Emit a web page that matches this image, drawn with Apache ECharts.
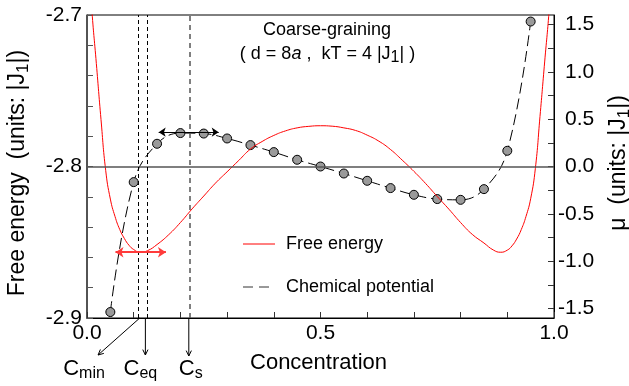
<!DOCTYPE html>
<html><head><meta charset="utf-8">
<script src="https://cdn.jsdelivr.net/npm/echarts@6/dist/echarts.min.js"></script>
<style>html,body{margin:0;padding:0;background:#fff}#c{width:629px;height:386px}</style>
</head><body><div id="c"></div>
<script>
// ---- data ----
const concFE = [0, 0.01, 0.02, 0.03, 0.04, 0.05, 0.06, 0.07, 0.08, 0.09, 0.1, 0.114, 0.13, 0.15, 0.175, 0.2, 0.225, 0.25, 0.275, 0.3, 0.325, 0.35, 0.375, 0.4, 0.425, 0.45, 0.475, 0.5,
  0.525, 0.55, 0.575, 0.6, 0.625, 0.65, 0.675, 0.7, 0.725, 0.75, 0.775, 0.8, 0.825, 0.85, 0.87, 0.886, 0.9, 0.91, 0.92, 0.93, 0.94, 0.95, 0.96, 0.97, 0.98, 0.99, 1.0];
const freeEnergy = [-2.645, -2.695, -2.732, -2.769, -2.8025, -2.8215, -2.833, -2.8415, -2.8475, -2.852, -2.8548, -2.8566, -2.8555, -2.8515, -2.845, -2.837, -2.828, -2.8195, -2.811, -2.8035, -2.796, -2.7885, -2.7835, -2.7795, -2.7765, -2.7745, -2.7735, -2.7731,
  -2.7734, -2.7745, -2.7762, -2.7793, -2.7833, -2.7888, -2.7958, -2.8032, -2.8112, -2.8198, -2.8282, -2.837, -2.8448, -2.8505, -2.8551, -2.8566, -2.8552, -2.8524, -2.8479, -2.8416, -2.833, -2.8213, -2.8015, -2.767, -2.731, -2.695, -2.645];
const concMu = [0.05, 0.1, 0.15, 0.2, 0.25, 0.3, 0.35, 0.4, 0.45, 0.5, 0.55, 0.6, 0.65, 0.7, 0.75, 0.8, 0.85, 0.9, 0.95];
const chemPot = [-1.537, -0.165, 0.240, 0.353, 0.348, 0.296, 0.226, 0.152, 0.071, 0.0, -0.074, -0.151, -0.228, -0.299, -0.344, -0.352, -0.239, 0.166, 1.531];
const xTicks = [0, 0.1, 0.2, 0.3, 0.4, 0.5, 0.6, 0.7, 0.8, 0.9, 1.0];
const xTickLabels = [0, 0.5, 1.0];
const feTicks = [-2.9, -2.88, -2.86, -2.84, -2.82, -2.8, -2.78, -2.76, -2.74, -2.72, -2.7];
const feTickLabels = [-2.9, -2.8, -2.7];
const muTicks = [-1.5, -1.25, -1, -0.75, -0.5, -0.25, 0, 0.25, 0.5, 0.75, 1, 1.25, 1.5];
const muTickLabels = [-1.5, -1, -0.5, 0, 0.5, 1, 1.5];
const markerNames = ['min', 'eq', 's'];
const markerConc = [0.113, 0.125, 0.218];
const feArrow = [0.061, 0.169];       // red double arrow, concentration ends
const feArrowLevel = -2.8566;
const muArrow = [0.1535, 0.282];      // black double arrow, concentration ends
const muArrowLevel = 0.363;

const FONT = '"Liberation Sans", Arial, Helvetica, sans-serif';
const chart = echarts.init(document.getElementById('c'), null, {renderer: 'canvas'});

const option = {
  animation: false,
  textStyle: {fontFamily: FONT},
  grid: {left: 87, right: 75, top: 15, bottom: 68, show: true, borderColor: '#000', borderWidth: 1, outerBoundsMode: 'none'},
  xAxis: {
    type: 'value', min: 0, max: 1,
    axisLine: {show: true, onZero: false, lineStyle: {color: '#000', width: 1}},
    axisTick: {show: true, inside: true, length: 6, customValues: xTicks, lineStyle: {color: '#333'}},
    axisLabel: {show: true, customValues: xTickLabels, formatter: v => Number(v).toFixed(1), fontSize: 21, color: '#000', margin: 5, fontFamily: FONT},
    splitLine: {show: false}
  },
  yAxis: [{
    type: 'value', position: 'left', min: -2.9, max: -2.7,
    axisLine: {show: true, onZero: false, lineStyle: {color: '#444', width: 1.5}},
    axisTick: {show: true, inside: true, length: 6, customValues: feTicks, lineStyle: {color: '#555'}},
    axisLabel: {show: true, customValues: feTickLabels, formatter: v => Number(v).toFixed(1), fontSize: 21, color: '#000', margin: 5, fontFamily: FONT},
    splitLine: {show: false}
  }, {
    type: 'value', position: 'right', min: -1.6, max: 1.6,
    axisLine: {show: true, onZero: false, lineStyle: {color: '#000', width: 1}},
    axisTick: {show: true, inside: true, length: 6, customValues: muTicks, lineStyle: {color: '#333'}},
    axisLabel: {
      show: true, customValues: muTickLabels, margin: 4, fontFamily: FONT,
      formatter: v => (v >= 0 ? '{p|' + Number(v).toFixed(1) + '}' : '{n|' + Number(v).toFixed(1) + '}'),
      rich: {p: {fontSize: 21, color: '#000', padding: [0, 0, 0, 7], fontFamily: FONT}, n: {fontSize: 21, color: '#000', fontFamily: FONT}}
    },
    splitLine: {show: false}
  }],
  series: [{
    name: 'Chemical potential', type: 'line', xAxisIndex: 0, yAxisIndex: 1,
    data: concMu.map((c, i) => [c, chemPot[i]]),
    smooth: 0.4, symbol: 'circle', symbolSize: 9, showSymbol: true, z: 3,
    itemStyle: {color: '#9a9a9a', borderColor: '#000', borderWidth: 1},
    lineStyle: {color: '#000', width: 1, type: [11, 5]},
    markLine: {
      silent: true, symbol: ['none', 'none'], label: {show: false}, animation: false,
      data: [
        {yAxis: 0, lineStyle: {color: '#555', width: 1.5, type: 'solid'}},
        [{coord: [muArrow[0], muArrowLevel], symbol: 'arrow', symbolSize: 7, lineStyle: {color: '#000', width: 1, type: 'solid'}},
         {coord: [muArrow[1], muArrowLevel], symbol: 'arrow', symbolSize: 7}]
      ]
    }
  }, {
    name: 'Free energy', type: 'line', xAxisIndex: 0, yAxisIndex: 0,
    data: concFE.map((c, i) => [c, freeEnergy[i]]),
    smooth: true, showSymbol: false, symbol: 'none', clip: true, z: 4,
    lineStyle: {color: '#ff0000', width: 1},
    markLine: {
      silent: true, symbol: ['none', 'none'], label: {show: false}, animation: false,
      data: markerConc.map((c, i) => ({xAxis: c, lineStyle: {color: i < 2 ? '#000' : '#555', width: i < 2 ? 1 : 1.5, type: i < 2 ? [4, 3] : [5, 4]}})).concat([
        [{coord: [feArrow[0], feArrowLevel], symbol: 'arrow', symbolSize: 8, lineStyle: {color: '#ff3b3b', width: 2, type: 'solid'}},
         {coord: [feArrow[1], feArrowLevel], symbol: 'arrow', symbolSize: 8}]
      ])
    }
  }]
};
chart.setOption(option);

// ---- annotations derived from the axes ----
const px = c => chart.convertToPixel({xAxisIndex: 0}, c);
const yBot = chart.convertToPixel({yAxisIndex: 0}, -2.9);

function arrow(x1, y1, x2, y2, h) {
  const a = Math.atan2(y2 - y1, x2 - x1), s = 0.45;
  return [
    {type: 'line', shape: {x1, y1, x2, y2}, style: {stroke: '#000', lineWidth: 1}, silent: true},
    {type: 'polyline', shape: {points: [[x2 - h * Math.cos(a - s), y2 - h * Math.sin(a - s)], [x2, y2], [x2 - h * Math.cos(a + s), y2 - h * Math.sin(a + s)]]},
     style: {stroke: '#000', fill: null, lineWidth: 1}, silent: true}
  ];
}
const subRich = {
  m: {fontSize: 22, lineHeight: 26, fontFamily: FONT, fill: '#000'},
  s: {fontSize: 16, lineHeight: 17, verticalAlign: 'bottom', fontFamily: FONT, fill: '#000'}
};
const els = [];
// arrows below the axis
const ends = [[-41.7, 37], [0, 37], [0, 38]];
const labelDx = [-14, -5, 2];
markerConc.forEach((c, i) => {
  const x0 = px(c);
  const x1 = x0 + ends[i][0], y1 = yBot + ends[i][1];
  els.push(...arrow(x0, yBot, x1, y1, 6));
  els.push({type: 'text', x: x1 + labelDx[i], y: 369, silent: true,
    style: {text: '{m|C}{s|' + markerNames[i] + '}', rich: subRich, align: 'center', verticalAlign: 'middle', font: '22px ' + FONT}});
});
// title
els.push({type: 'text', x: 327, y: 30, silent: true,
  style: {text: 'Coarse-graining', font: '18px ' + FONT, fill: '#000', align: 'center', verticalAlign: 'middle'}});
els.push({type: 'text', x: 327.5, y: 54, silent: true,
  style: {text: '{m|( d = 8}{i|a}{m| ,  kT = 4 |J}{s|1}{m|| )}', align: 'center', verticalAlign: 'middle',
    rich: {m: {fontSize: 18, lineHeight: 24, fontFamily: FONT, fill: '#000'},
           i: {fontSize: 18, lineHeight: 24, fontStyle: 'italic', fontFamily: FONT, fill: '#000'},
           s: {fontSize: 16, lineHeight: 14, verticalAlign: 'bottom', fontFamily: FONT, fill: '#000'}}}});
// axis titles
els.push({type: 'text', x: 318.5, y: 363, silent: true,
  style: {text: 'Concentration', font: '22px ' + FONT, fill: '#000', align: 'center', verticalAlign: 'middle'}});
const titleRich = {
  m: {fontSize: 23, lineHeight: 27, fontFamily: FONT, fill: '#000'},
  s: {fontSize: 17, lineHeight: 17, verticalAlign: 'bottom', fontFamily: FONT, fill: '#000'}
};
els.push({type: 'text', x: 18, y: 173, rotation: Math.PI / 2, silent: true,
  style: {text: '{m|Free energy  (units: |J}{s|1}{m||)}', rich: titleRich, align: 'center', verticalAlign: 'middle'}});
els.push({type: 'text', x: 619, y: 163, rotation: Math.PI / 2, silent: true,
  style: {text: '{m|\u03bc  (units: |J}{s|1}{m||)}', rich: titleRich, align: 'center', verticalAlign: 'middle'}});
// legend
els.push({type: 'line', shape: {x1: 243, y1: 244, x2: 275, y2: 244}, style: {stroke: '#ff0000', lineWidth: 1}, silent: true});
els.push({type: 'text', x: 286, y: 244, silent: true,
  style: {text: 'Free energy', font: '18px ' + FONT, fill: '#000', align: 'left', verticalAlign: 'middle'}});
els.push({type: 'line', shape: {x1: 243, y1: 287, x2: 275, y2: 287}, style: {stroke: '#333', lineWidth: 1, lineDash: [10, 6]}, silent: true});
els.push({type: 'text', x: 286, y: 287, silent: true,
  style: {text: 'Chemical potential', font: '18px ' + FONT, fill: '#000', align: 'left', verticalAlign: 'middle'}});

chart.setOption({graphic: {elements: els}});
</script>
</body></html>
